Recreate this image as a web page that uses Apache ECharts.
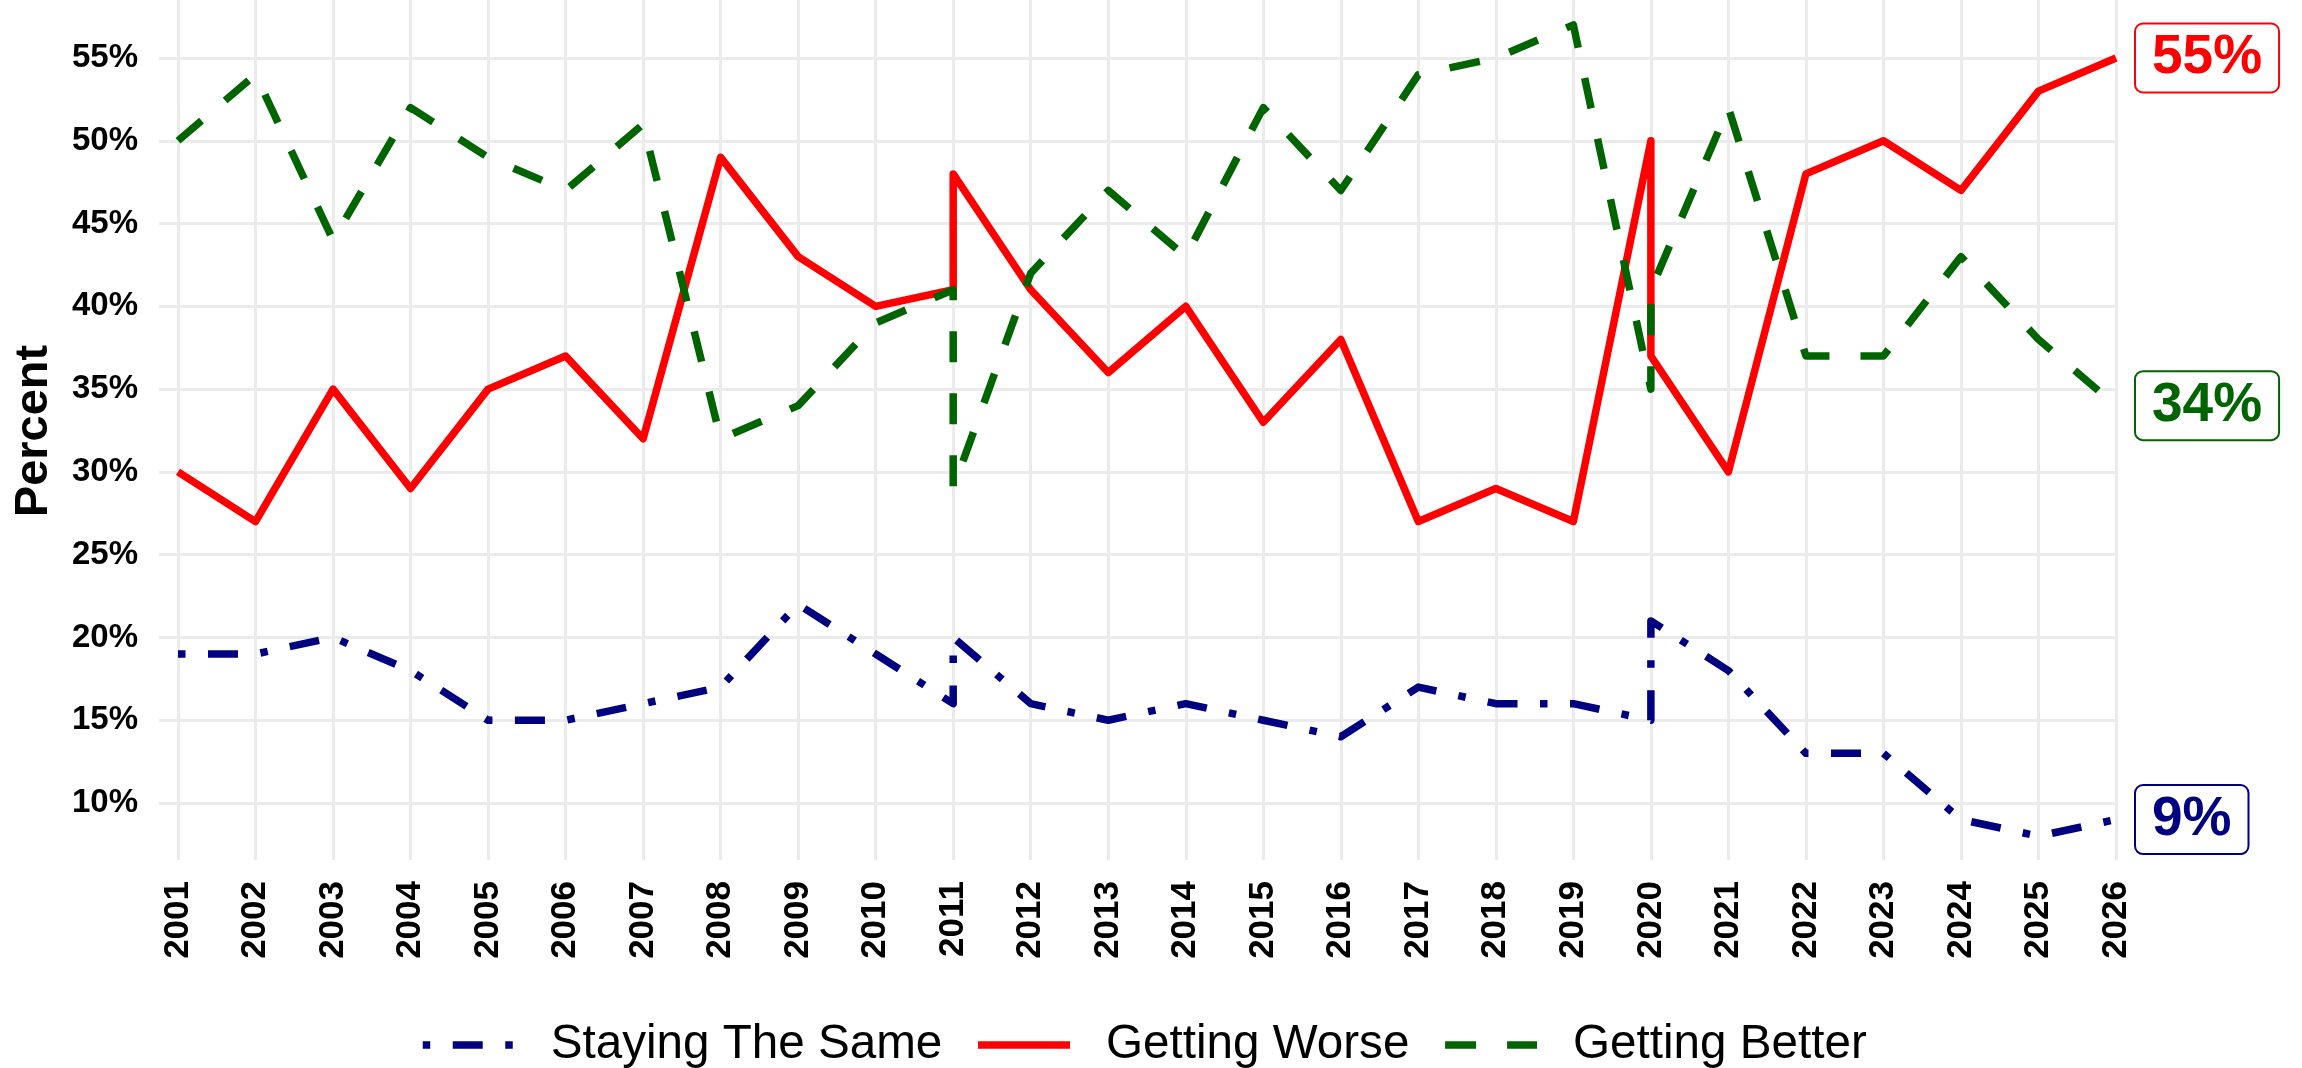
<!DOCTYPE html>
<html>
<head>
<meta charset="utf-8">
<script src="https://cdn.jsdelivr.net/npm/echarts@6/dist/echarts.min.js"></script>
<style>
html,body{margin:0;padding:0;background:#fff;}
#chart{width:2302px;height:1068px;}
</style>
</head>
<body>
<div id="chart"></div>
<script>
// Survey years (2011 and 2020 appear twice: two measurements that year)
const years = [2001,2002,2003,2004,2005,2006,2007,2008,2009,2010,2011,2011,2012,2013,2014,2015,2016,2017,2018,2019,2020,2020,2021,2022,2023,2024,2025,2026];
const stayingTheSame = [19,19,20,18,15,15,16,17,22,19,16,20,16,15,16,15,14,17,16,16,15,21,18,13,13,9,8,9];
const gettingWorse   = [30,27,35,29,35,37,32,49,43,40,41,48,41,36,40,33,38,27,29,27,50,37,30,48,50,47,53,55];
const gettingBetter  = [50,54,44,52,49,47,51,32,34,39,41,29,42,47,43,52,47,54,55,57,35,41,52,37,37,43,38,34];
const seriesNames = ['Staying The Same','Getting Worse','Getting Better'];
const seriesColors = ['#000080','#FF0000','#006400'];

const FONT = 'Liberation Sans';
const pair = arr => arr.map((v,i) => [years[i], v]);

function endLabel(color){
  return {
    show: true,
    formatter: p => p.value[1] + '%',
    color: color,
    fontFamily: FONT,
    fontWeight: 'bold',
    fontSize: 55,
    lineHeight: 55,
    backgroundColor: '#fff',
    borderColor: color,
    borderWidth: 2,
    borderRadius: 7,
    padding: [6, 16, 6, 16],
    distance: 20
  };
}

const chart = echarts.init(document.getElementById('chart'), null, {renderer:'canvas'});
chart.setOption({
  animation: false,
  backgroundColor: '#fff',
  grid: [
    {left: 159, right: 186, top: 0, bottom: 208},   // data
    {left: 159, right: 186, top: 58, bottom: 265},  // y ticks 10..55
    {left: 178, right: 186, top: 0, bottom: 208}    // x ticks 2001..2026
  ],
  xAxis: [
    {gridIndex: 0, type: 'value', min: 2000.755, max: 2026, show: false},
    {gridIndex: 1, type: 'value', min: 0, max: 1, show: false},
    {gridIndex: 2, type: 'value', min: 2001, max: 2026, interval: 1,
      axisLine: {show: false}, axisTick: {show: false},
      splitLine: {show: true, lineStyle: {color: '#EBEBEB', width: 3}},
      axisLabel: {rotate: 90, margin: 21, color: '#000', fontFamily: FONT, fontWeight: 'bold', fontSize: 35,
        formatter: v => String(v)}}
  ],
  yAxis: [
    {gridIndex: 0, type: 'value', min: 6.557, max: 58.503, show: false},
    {gridIndex: 1, type: 'value', min: 10, max: 55, interval: 5,
      axisLine: {show: false}, axisTick: {show: false},
      splitLine: {show: true, lineStyle: {color: '#EBEBEB', width: 3}},
      axisLabel: {margin: 21, color: '#000', fontFamily: FONT, fontWeight: 'bold', fontSize: 33,
        formatter: '{value}%'}},
    {gridIndex: 2, type: 'value', min: 0, max: 1, show: false}
  ],
  graphic: [
    {type: 'text', x: 34, y: 431, rotation: Math.PI/2,
      style: {text: 'Percent', font: 'bold 47px "Liberation Sans"', fill: '#000', textAlign: 'center', textVerticalAlign: 'middle'}}
  ],
  legend: {
    left: 419, top: 1020, padding: 0,
    itemWidth: 92, itemHeight: 20, itemGap: 32,
    data: seriesNames,
    itemStyle: {opacity: 0, color: 'transparent', borderWidth: 0},
    lineStyle: {width: 7.5, type: 'inherit', cap: 'butt'},
    textStyle: {fontFamily: FONT, fontSize: 47.6, color: '#000', lineHeight: 50, padding: [0,0,0,31]}
  },
  series: [
    {name: seriesNames[0], type: 'line', xAxisIndex: 0, yAxisIndex: 0, data: pair(stayingTheSame),
      symbol: 'none', color: seriesColors[0],
      lineStyle: {color: seriesColors[0], width: 7.5, type: [7.5, 22.5, 30, 22.5], cap: 'butt', join: 'round'},
      endLabel: endLabel(seriesColors[0])},
    {name: seriesNames[1], type: 'line', xAxisIndex: 0, yAxisIndex: 0, data: pair(gettingWorse),
      symbol: 'none', color: seriesColors[1],
      lineStyle: {color: seriesColors[1], width: 7.5, type: 'solid', join: 'round'},
      endLabel: endLabel(seriesColors[1])},
    {name: seriesNames[2], type: 'line', xAxisIndex: 0, yAxisIndex: 0, data: pair(gettingBetter),
      symbol: 'none', color: seriesColors[2],
      lineStyle: {color: seriesColors[2], width: 7.5, type: [31, 31], cap: 'butt', join: 'round'},
      endLabel: endLabel(seriesColors[2])}
  ]
});
</script>
</body>
</html>
